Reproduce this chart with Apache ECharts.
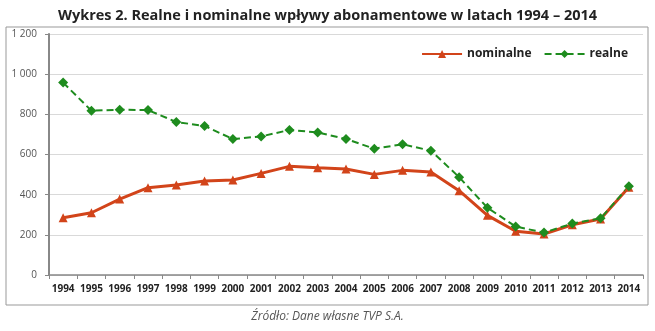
<!DOCTYPE html>
<html><head><meta charset="utf-8">
<script src="https://cdn.jsdelivr.net/npm/echarts@6/dist/echarts.min.js"></script>
<style>html,body{margin:0;padding:0;background:#fff}#c{width:655px;height:331px}</style>
</head><body><div id="c"></div>
<script>
const years = ['1994','1995','1996','1997','1998','1999','2000','2001','2002','2003','2004','2005','2006','2007','2008','2009','2010','2011','2012','2013','2014'];
const nominalne = [285,310,378,435,448,468,473,506,541,534,528,501,521,513,420,297,218,204,250,279,437];
const realne = [958,818,823,821,762,742,677,690,722,710,677,629,651,619,487,335,241,211,256,282,442];
const titleText = 'Wykres 2. Realne i nominalne wpływy abonamentowe w latach 1994 – 2014';
const sourceText = 'Źródło: Dane własne TVP S.A.';

const chart = echarts.init(document.getElementById('c'));
chart.setOption({
  animation: false,
  title: [{
    text: titleText, left: 'center', top: 3,
    textStyle: {fontFamily: 'Open Sans', fontWeight: 'bold', fontSize: 14.5, color: '#222'}
  }, {
    text: sourceText, left: 'center', top: 306,
    textStyle: {fontFamily: 'Open Sans', fontStyle: 'italic', fontWeight: 'normal', fontSize: 12, color: '#555'}
  }],
  graphic: [{
    type: 'rect', shape: {x: 6, y: 27, width: 642, height: 278},
    style: {fill: 'none', stroke: '#999', lineWidth: 1}, silent: true
  }],
  legend: {
    right: 22, top: 43, itemGap: 12, itemWidth: 40, itemHeight: 10,
    textStyle: {fontFamily: 'Open Sans', fontWeight: 'bold', fontSize: 12, color: '#222'},
    data: ['nominalne', 'realne']
  },
  grid: {left: 49, right: 12, top: 34, bottom: 56},
  xAxis: {
    type: 'category', data: years, boundaryGap: true,
    axisLine: {lineStyle: {color: '#888', width: 1.5}},
    axisTick: {show: true, length: 4, lineStyle: {color: '#888'}},
    axisLabel: {fontFamily: 'Open Sans', fontWeight: 'bold', fontSize: 10, color: '#222', margin: 9, interval: 0}
  },
  yAxis: {
    type: 'value', min: 0, max: 1200, interval: 200,
    axisLine: {show: true, lineStyle: {color: '#888', width: 2}},
    axisTick: {show: true, length: 4, lineStyle: {color: '#888'}},
    splitLine: {lineStyle: {color: '#d9d9d9'}},
    axisLabel: {fontFamily: 'Open Sans', fontSize: 10, color: '#555', margin: 12,
      formatter: v => v >= 1000 ? String(v).replace(/(\d)(\d{3})$/, '$1 $2') : String(v)}
  },
  series: [{
    name: 'nominalne', type: 'line', data: nominalne,
    symbol: 'triangle', symbolSize: 9,
    lineStyle: {color: '#D2441A', width: 3},
    itemStyle: {color: '#D2441A'}
  }, {
    name: 'realne', type: 'line', data: realne,
    symbol: 'diamond', symbolSize: 10,
    lineStyle: {color: '#1E8C1E', width: 2, type: [7, 4]},
    itemStyle: {color: '#1E8C1E'}
  }]
});
</script></body></html>
